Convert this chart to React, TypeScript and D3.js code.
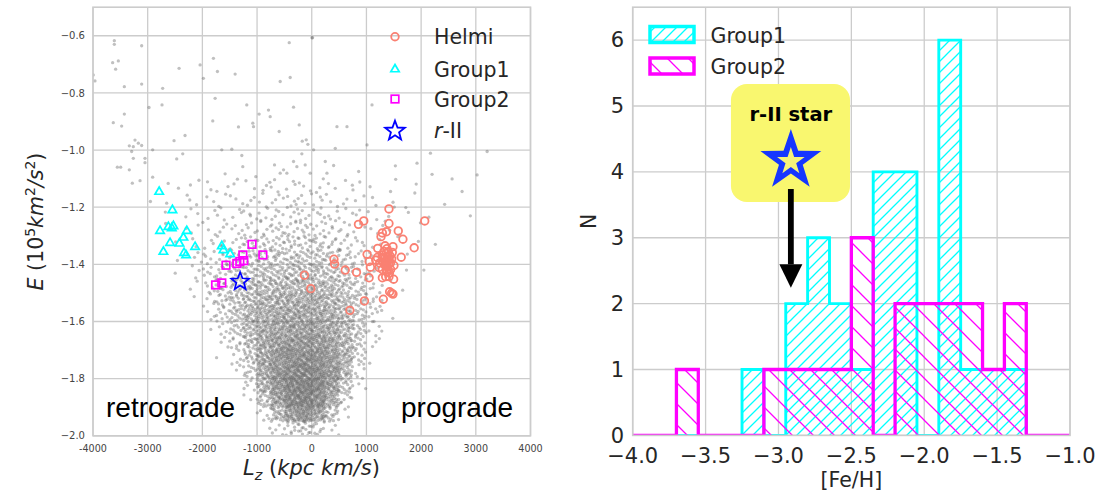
import React, { useMemo } from 'react';
import * as d3 from 'd3';

// ---------- Energy vs. Lz panel ----------
const helmiStars: [number, number][] = [
  [1412, -1.206], [854, -1.26], [951, -1.248], [2066, -1.248], [1412, -1.257],
  [1582, -1.283], [1291, -1.29], [1364, -1.286], [1267, -1.303], [1667, -1.312],
  [1485, -1.338], [1873, -1.342], [1206, -1.344], [1012, -1.365], [1636, -1.375],
  [406, -1.382], [418, -1.399], [612, -1.42], [818, -1.428], [-133, -1.438],
  [-18, -1.485], [1073, -1.41], [1049, -1.447], [1291, -1.447], [1497, -1.452],
  [1424, -1.496], [1485, -1.504], [1461, -1.501], [964, -1.528], [1309, -1.522],
  [697, -1.561], [1200, -1.376], [1291, -1.367], [1382, -1.373], [1461, -1.381],
  [1243, -1.395], [1340, -1.401], [1412, -1.397], [1503, -1.404], [1291, -1.418],
  [1382, -1.426], [1443, -1.418], [1230, -1.411], [1352, -1.443], [1352, -1.388],
  [1473, -1.358], [1170, -1.385], [1412, -1.443], [1340, -1.335], [1049, -1.39],
  [1320, -1.355], [1360, -1.362], [1400, -1.356], [1430, -1.370], [1330, -1.380],
  [1370, -1.384], [1410, -1.380], [1350, -1.405], [1390, -1.410], [1315, -1.395],
  [1440, -1.395], [1375, -1.345], [1300, -1.375], [1420, -1.430], [1365, -1.425],
];
const group1Stars: [number, number][] = [
  [-2790, -1.145], [-2548, -1.209], [-2774, -1.282], [-2622, -1.268], [-2530, -1.265],
  [-2285, -1.282], [-2347, -1.305], [-2591, -1.324], [-2420, -1.326], [-2133, -1.338],
  [-2713, -1.355], [-2335, -1.359], [-2298, -1.367], [-1645, -1.335], [-1615, -1.349],
  [-1492, -1.363], [-2560, -1.272],
];
const group2Stars: [number, number][] = [
  [-1092, -1.33], [-894, -1.367], [-1260, -1.367], [-1315, -1.39], [-1242, -1.387],
  [-1370, -1.397], [-1568, -1.403], [-1645, -1.465], [-1758, -1.472],
];
const rIIStar: [number, number] = [-1309, -1.46];

// isolated field stars in the sparse upper halo
const haloSparse: [number, number][] = [
  [-3610, -0.617], [-3610, -0.63], [-3110, -0.635], [-3641, -0.694], [-3537, -0.688],
  [-3586, -0.717], [-3995, -0.737], [-3964, -0.758], [-3427, -0.778], [-3110, -0.769],
  [-2726, -0.784], [-2426, -0.714], [-2042, -0.702], [-1798, -0.679], [-1725, -0.725],
  [-1401, -0.734], [-1981, -0.749], [-412, -0.624], [-577, -0.76], [-394, -0.746],
  [3, -0.607], [-2976, -0.851], [-2738, -0.842], [-1767, -0.819], [-1188, -0.842],
  [-962, -0.874], [-791, -0.86], [-760, -0.883], [-333, -0.85], [-3629, -0.904],
  [-3476, -0.916], [-3427, -0.874], [-3232, -0.965], [-3171, -0.976], [-3110, -0.984],
  [-3263, -0.988], [-3336, -0.985], [-3293, -1.005], [-3049, -1.029], [-3049, -1.044],
  [-3263, -1.029], [-3555, -1.06], [-3494, -1.06], [-3336, -1.069], [-3140, -1.107],
  [-3281, -1.116], [-2909, -0.999], [-2909, -1.095], [-2518, -0.967], [-2317, -0.949],
  [-2469, -1.031], [-2359, -1.013], [-1810, -0.898], [-1584, -1.083], [-1340, -0.919],
  [-1065, -0.918], [-1078, -0.906], [-595, -0.935], [-229, -0.912], [-71, -0.98],
  [-174, -0.969], [-333, -1.04], [-181, -1.013], [-516, -1.069], [-577, -1.081],
  [-681, -1.052], [-1279, -1.019], [-1462, -0.997], [-1645, -0.999], [-1261, -1.058],
  [-1023, -1.093], [-455, -1.081], [-272, -1.058], [-120, -1.052], [-28, -1.081],
  [15, -0.607], [1102, -0.842], [461, -0.918], [644, -0.918], [1010, -0.982],
  [430, -0.994], [247, -1.04], [400, -1.054], [858, -1.075], [1529, -1.055],
  [1925, -1.046], [2170, -1.011], [2200, -1.085], [2566, -1.101], [3024, -1.087],
  [3207, -1.005], [2749, -1.145], [-101, -0.964], [34, -0.999], [278, -1.081],
  [2430, -1.19], [2900, -1.23], [2260, -1.33], [2050, -1.42], [-2950, -1.18],
];

// field-star counts per cell: columns of 250 kpc km/s from Lz = -2750,
// rows of 0.05 (10^5 km^2/s^2) going down from E = -1.10
const densityLzStart = -2750;
const densityLzStep = 250;
const densityETop = -1.1;
const densityEStep = 0.05;
const densityRows: number[][] = [
  [1, 1, 2, 2, 2, 2, 2, 3, 3, 3, 3, 3, 2, 2, 2, 1, 1, 1, 1, 0],
  [1, 1, 2, 2, 2, 3, 3, 3, 4, 4, 4, 3, 3, 2, 2, 2, 1, 1, 1, 0],
  [1, 1, 2, 2, 3, 3, 4, 4, 5, 5, 5, 5, 4, 3, 2, 2, 2, 1, 1, 1],
  [1, 1, 2, 3, 3, 4, 5, 6, 7, 7, 7, 6, 5, 4, 3, 2, 2, 1, 1, 0],
  [0, 1, 2, 3, 5, 6, 8, 9, 10, 11, 11, 10, 8, 6, 4, 2, 2, 1, 1, 0],
  [0, 1, 3, 5, 7, 9, 11, 13, 14, 15, 15, 14, 12, 9, 6, 3, 2, 1, 0, 0],
  [0, 1, 3, 6, 9, 12, 15, 17, 19, 20, 20, 19, 16, 12, 8, 4, 2, 1, 0, 0],
  [0, 0, 2, 6, 11, 16, 20, 23, 25, 26, 26, 25, 22, 17, 11, 5, 2, 1, 0, 0],
  [0, 0, 1, 5, 11, 18, 24, 28, 31, 33, 33, 31, 28, 22, 14, 6, 2, 0, 0, 0],
  [0, 0, 0, 3, 9, 17, 26, 32, 35, 37, 37, 35, 31, 24, 14, 6, 2, 0, 0, 0],
  [0, 0, 0, 1, 5, 13, 24, 34, 39, 42, 42, 40, 35, 26, 14, 4, 1, 0, 0, 0],
  [0, 0, 0, 0, 3, 9, 20, 36, 45, 49, 50, 47, 41, 28, 12, 3, 0, 0, 0, 0],
  [0, 0, 0, 0, 1, 5, 16, 36, 50, 57, 59, 55, 46, 30, 9, 1, 0, 0, 0, 0],
  [0, 0, 0, 0, 0, 2, 12, 35, 52, 62, 66, 61, 49, 26, 5, 0, 0, 0, 0, 0],
  [0, 0, 0, 0, 0, 0, 6, 29, 50, 68, 72, 65, 44, 17, 2, 0, 0, 0, 0, 0],
  [0, 0, 0, 0, 0, 0, 2, 18, 42, 65, 71, 60, 33, 8, 0, 0, 0, 0, 0, 0],
  [0, 0, 0, 0, 0, 0, 0, 6, 22, 46, 54, 42, 16, 2, 0, 0, 0, 0, 0, 0],
  [0, 0, 0, 0, 0, 0, 0, 1, 4, 10, 14, 9, 3, 0, 0, 0, 0, 0, 0, 0],
];

const lzTicks = [-4000, -3000, -2000, -1000, 0, 1000, 2000, 3000, 4000];
const eTicks = [-2.0, -1.8, -1.6, -1.4, -1.2, -1.0, -0.8, -0.6];

// ---------- [Fe/H] histogram panel ----------
const feEdges = [-4.0, -3.85, -3.7, -3.55, -3.4, -3.25, -3.1, -2.95, -2.8, -2.65, -2.5,
  -2.35, -2.2, -2.05, -1.9, -1.75, -1.6, -1.45, -1.3, -1.15, -1.0];
const group1Counts = [0, 0, 0, 0, 0, 1, 0, 2, 3, 2, 1, 4, 4, 0, 6, 1, 1, 1, 0, 0];
const group2Counts = [0, 0, 1, 0, 0, 0, 1, 1, 1, 1, 3, 0, 2, 2, 2, 2, 1, 2, 0, 0];
const feTicks = [-4.0, -3.5, -3.0, -2.5, -2.0, -1.5, -1.0];
const nTicks = [0, 1, 2, 3, 4, 5, 6];

// the r-II star callout: arrow points at its [Fe/H]
const rIIFeH = -2.915;
const arrowTipN = 2.24;
const arrowTailN = 3.74;
const calloutBox = { x0: -3.326, x1: -2.509, y0: 3.543, y1: 5.335 };

const GRID = '#cccccc';
const TEXT = '#262626';
const FONT = 'DejaVu Sans, sans-serif';

// van der Corput radical inverse, used to spread a cell's dots evenly
function radicalInverse(i: number, base: number) {
  let f = 1;
  let r = 0;
  while (i > 0) {
    f /= base;
    r += f * (i % base);
    i = Math.floor(i / base);
  }
  return r;
}

function starPath(cx: number, cy: number, R: number, r: number) {
  const pts: string[] = [];
  for (let i = 0; i < 10; i++) {
    const a = -Math.PI / 2 + (i * Math.PI) / 5;
    const rad = i % 2 === 0 ? R : r;
    pts.push(`${(cx + rad * Math.cos(a)).toFixed(2)},${(cy + rad * Math.sin(a)).toFixed(2)}`);
  }
  return `M${pts.join('L')}Z`;
}

function trianglePath(cx: number, cy: number, s: number) {
  const h = s * 0.866;
  return `M${cx},${cy - h * 0.62}L${cx + s / 2},${cy + h * 0.38}L${cx - s / 2},${cy + h * 0.38}Z`;
}

export default function App() {
  // left panel scales
  const L = { x0: 93, x1: 530.5, y0: 7.2, y1: 435.8 };
  const xL = d3.scaleLinear().domain([-4000, 4000]).range([L.x0, L.x1]);
  const yL = d3.scaleLinear().domain([-2.0, -0.5]).range([L.y1, L.y0]);
  // right panel scales
  const R = { x0: 632.7, x1: 1070, y0: 7.2, y1: 435.4 };
  const xR = d3.scaleLinear().domain([-4, -1]).range([R.x0, R.x1]);
  const yR = d3.scaleLinear().domain([0, 6.5]).range([R.y1, R.y0]);

  const fieldDots = useMemo(() => {
    const out: [number, number][] = [...haloSparse];
    let idx = 1;
    densityRows.forEach((row, r) =>
      row.forEach((n, c) => {
        const lz0 = densityLzStart + c * densityLzStep;
        const e0 = densityETop - r * densityEStep;
        for (let k = 0; k < n; k++) {
          const u = radicalInverse(idx, 2);
          const v = radicalInverse(idx, 3);
          idx++;
          out.push([lz0 + u * densityLzStep, e0 - v * densityEStep]);
        }
      })
    );
    return out;
  }, []);

  const stepPoints = (counts: number[]) => {
    const pts: [number, number][] = [[feEdges[0], 0]];
    counts.forEach((c, i) => {
      pts.push([feEdges[i], c]);
      pts.push([feEdges[i + 1], c]);
    });
    pts.push([feEdges[feEdges.length - 1], 0]);
    return pts;
  };
  const line = d3.line<[number, number]>().x((d) => xR(d[0])).y((d) => yR(d[1]));
  const g1Path = line(stepPoints(group1Counts)) as string;
  const g2Path = line(stepPoints(group2Counts)) as string;

  const eFmt = d3.format('.1f');
  const feFmt = d3.format('.1f');

  const tipX = xR(rIIFeH);
  const tipY = yR(arrowTipN);
  const tailY = yR(arrowTailN);
  const bx0 = xR(calloutBox.x0);
  const bx1 = xR(calloutBox.x1);
  const by0 = yR(calloutBox.y1);
  const by1 = yR(calloutBox.y0);
  const starCy = by0 + 77;

  return (
    <svg
      width={1099}
      height={494}
      viewBox="0 0 1099 494"
      style={{ position: 'absolute', left: 0, top: 0, background: '#fff' }}
      fontFamily={FONT}
    >
      <defs>
        <clipPath id="clipL">
          <rect x={L.x0} y={L.y0} width={L.x1 - L.x0} height={L.y1 - L.y0} />
        </clipPath>
        <clipPath id="clipR">
          <rect x={R.x0} y={R.y0} width={R.x1 - R.x0} height={R.y1 - R.y0} />
        </clipPath>
        <pattern id="hatchCyan" patternUnits="userSpaceOnUse" width={11} height={11}>
          <path d="M0,11L11,0M-2,2L2,-2M9,13L13,9" stroke="#00ffff" strokeWidth={1.3} />
        </pattern>
        <pattern id="hatchMagenta" patternUnits="userSpaceOnUse" width={21} height={21}>
          <path d="M0,0L21,21M-2,19L2,23M19,-2L23,2" stroke="#ff00ff" strokeWidth={1.3} />
        </pattern>
      </defs>

      {/* ===== left panel: E vs Lz ===== */}
      <g>
        {lzTicks.map((t) => (
          <line key={`gx${t}`} x1={xL(t)} x2={xL(t)} y1={L.y0} y2={L.y1} stroke={GRID} strokeWidth={1.3} />
        ))}
        {eTicks.map((t) => (
          <line key={`gy${t}`} x1={L.x0} x2={L.x1} y1={yL(t)} y2={yL(t)} stroke={GRID} strokeWidth={1.3} />
        ))}
        <g clipPath="url(#clipL)">
          {fieldDots.map((d, i) => (
            <circle key={i} cx={xL(d[0])} cy={yL(d[1])} r={1.65} fill="#6a6a6a" fillOpacity={0.42} />
          ))}
        </g>
        <rect x={L.x0} y={L.y0} width={L.x1 - L.x0} height={L.y1 - L.y0} fill="none" stroke={GRID} strokeWidth={1.6} />

        {helmiStars.map((d, i) => (
          <circle key={`h${i}`} cx={xL(d[0])} cy={yL(d[1])} r={3.8} fill="none" stroke="#fa8072" strokeWidth={1.8} />
        ))}
        {group1Stars.map((d, i) => (
          <path key={`g1${i}`} d={trianglePath(xL(d[0]), yL(d[1]), 8.4)} fill="none" stroke="#00ffff" strokeWidth={1.7} strokeLinejoin="miter" />
        ))}
        {group2Stars.map((d, i) => (
          <rect key={`g2${i}`} x={xL(d[0]) - 3.8} y={yL(d[1]) - 3.8} width={7.6} height={7.6} fill="none" stroke="#ff00ff" strokeWidth={1.7} />
        ))}
        <path d={starPath(xL(rIIStar[0]), yL(rIIStar[1]), 9.3, 4.0)} fill="none" stroke="#0000ff" strokeWidth={1.7} />

        {/* legend */}
        <g>
          <circle cx={395} cy={36.7} r={3.8} fill="none" stroke="#fa8072" strokeWidth={1.8} />
          <path d={trianglePath(395, 69, 8.4)} fill="none" stroke="#00ffff" strokeWidth={1.7} />
          <rect x={391.2} y={95.2} width={7.6} height={7.6} fill="none" stroke="#ff00ff" strokeWidth={1.7} />
          <path d={starPath(395, 131, 10.3, 4.3)} fill="none" stroke="#0000ff" strokeWidth={1.8} />
          <text x={434} y={44.2} fontSize={20.5} fill={TEXT}>Helmi</text>
          <text x={434} y={76.5} fontSize={20.5} fill={TEXT}>Group1</text>
          <text x={434} y={106.5} fontSize={20.5} fill={TEXT}>Group2</text>
          <text x={434} y={137.5} fontSize={20.5} fill={TEXT}>
            <tspan fontStyle="italic">r</tspan>
            <tspan>-II</tspan>
          </text>
        </g>

        <text x={106} y={417} fontSize={28} fontFamily="Liberation Sans, Arial, sans-serif" fill="#000">retrograde</text>
        <text x={401} y={417} fontSize={28} fontFamily="Liberation Sans, Arial, sans-serif" fill="#000">prograde</text>

        {lzTicks.map((t) => (
          <text key={`tx${t}`} x={xL(t)} y={451.5} fontSize={9.6} textAnchor="middle" fill="#444">{String(t)}</text>
        ))}
        {eTicks.map((t) => (
          <text key={`ty${t}`} x={85} y={yL(t) + 3.6} fontSize={10} textAnchor="end" fill="#444">{eFmt(t)}</text>
        ))}

        <text x={311.5} y={475} fontSize={21} textAnchor="middle" fill={TEXT} fontStyle="italic">
          <tspan>L</tspan>
          <tspan dy={5} fontSize={14.5}>z</tspan>
          <tspan dy={-5} fontStyle="normal"> (</tspan>
          <tspan>kpc km/s</tspan>
          <tspan fontStyle="normal">)</tspan>
        </text>
        <text transform={`translate(43,${(L.y0 + L.y1) / 2}) rotate(-90)`} fontSize={20.5} textAnchor="middle" fill={TEXT}>
          <tspan fontStyle="italic">E</tspan>
          <tspan> (10</tspan>
          <tspan dy={-8} fontSize={14}>5</tspan>
          <tspan dy={8} fontStyle="italic">km</tspan>
          <tspan dy={-8} fontSize={14}>2</tspan>
          <tspan dy={8} fontStyle="italic">/s</tspan>
          <tspan dy={-8} fontSize={14}>2</tspan>
          <tspan dy={8}>)</tspan>
        </text>
      </g>

      {/* ===== right panel: [Fe/H] histogram ===== */}
      <g>
        {feTicks.map((t) => (
          <line key={`rgx${t}`} x1={xR(t)} x2={xR(t)} y1={R.y0} y2={R.y1} stroke={GRID} strokeWidth={1.3} />
        ))}
        {nTicks.map((t) => (
          <line key={`rgy${t}`} x1={R.x0} x2={R.x1} y1={yR(t)} y2={yR(t)} stroke={GRID} strokeWidth={1.3} />
        ))}
        <g clipPath="url(#clipR)">
          <path d={`${g1Path}Z`} fill="url(#hatchCyan)" stroke="none" />
          <path d={g1Path} fill="none" stroke="#00ffff" strokeWidth={2.9} strokeLinejoin="miter" />
          <path d={`${g2Path}Z`} fill="url(#hatchMagenta)" stroke="none" />
          <path d={g2Path} fill="none" stroke="#ff00ff" strokeWidth={3.3} strokeLinejoin="miter" />
        </g>
        <rect x={R.x0} y={R.y0} width={R.x1 - R.x0} height={R.y1 - R.y0} fill="none" stroke={GRID} strokeWidth={1.6} />

        {/* legend */}
        <rect x={650} y={26.5} width={44} height={16} fill="url(#hatchCyan)" stroke="#00ffff" strokeWidth={3.5} />
        <rect x={650} y={58} width={44} height={16} fill="url(#hatchMagenta)" stroke="#ff00ff" strokeWidth={3.5} />
        <text x={710.5} y={42.5} fontSize={20.5} fill={TEXT}>Group1</text>
        <text x={710.5} y={74} fontSize={20.5} fill={TEXT}>Group2</text>

        {/* r-II star callout */}
        <rect x={bx0} y={by0} width={bx1 - bx0} height={by1 - by0} rx={16} fill="#f9f76f" />
        <text x={tipX} y={by0 + 37.5} fontSize={19.5} fontWeight="bold" textAnchor="middle" fill="#000">r-II star</text>
        <path d={starPath(tipX, starCy, 32, 12.5)} fill="#1636ff" />
        <path d={starPath(tipX, starCy + 0.5, 14.5, 5.6)} fill="#f6f27a" />
        <rect x={tipX - 2.9} y={tailY} width={5.8} height={tipY - 23.5 - tailY} fill="#000" />
        <path d={`M${tipX - 11.5},${tipY - 23.5}L${tipX + 11.5},${tipY - 23.5}L${tipX},${tipY}Z`} fill="#000" />

        {feTicks.map((t) => (
          <text key={`rtx${t}`} x={xR(t)} y={463} fontSize={21} textAnchor="middle" fill={TEXT}>{feFmt(t)}</text>
        ))}
        {nTicks.map((t) => (
          <text key={`rty${t}`} x={624} y={yR(t) + 7.3} fontSize={21} textAnchor="end" fill={TEXT}>{String(t)}</text>
        ))}
        <text x={(R.x0 + R.x1) / 2} y={487} fontSize={20.5} textAnchor="middle" fill={TEXT}>[Fe/H]</text>
        <text transform={`translate(596,${(R.y0 + R.y1) / 2}) rotate(-90)`} fontSize={20.5} textAnchor="middle" fill={TEXT}>N</text>
      </g>
    </svg>
  );
}
